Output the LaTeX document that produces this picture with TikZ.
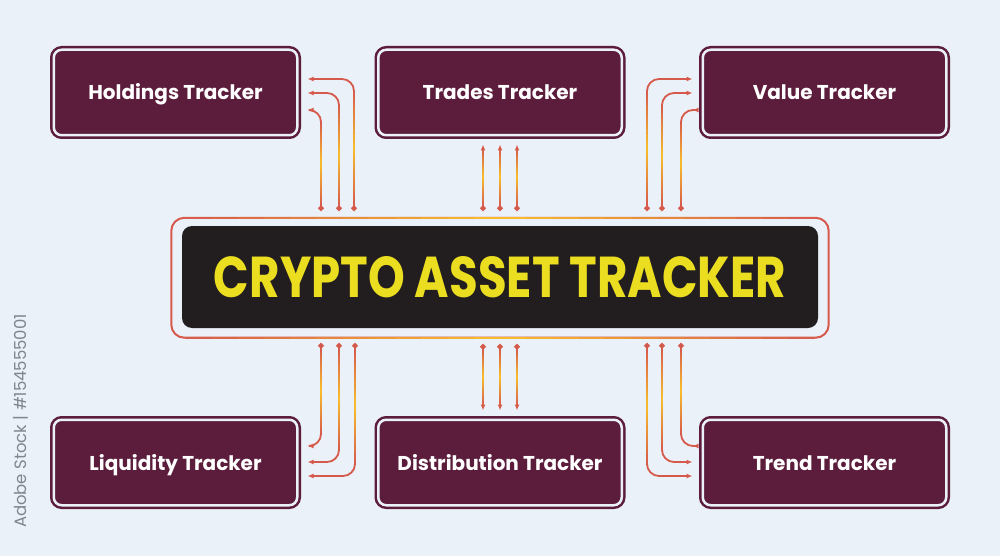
\documentclass[tikz,border=0pt]{standalone}
\usepackage{fontspec}
\usepackage{graphicx}
\setmainfont{Poppins}
\usetikzlibrary{arrows.meta,calc}
\definecolor{bg}{HTML}{EBF1F8}
\definecolor{boxmaroon}{HTML}{5C1D3C}
\definecolor{coreblack}{HTML}{221E1F}
\definecolor{ttl}{HTML}{EBDD1F}
\definecolor{lred}{HTML}{D65A4C}
\definecolor{lorange}{HTML}{F8C02A}
\definecolor{wm}{HTML}{80868F}
\tikzset{
  tbox/.style={rectangle, rounded corners=8, fill=boxmaroon, draw=boxmaroon, line width=2.5, double=bg, double distance=2.5,
    minimum width=243.5, minimum height=85.5, inner sep=0, text=white, text height=15, text depth=0,
    font=\bfseries\fontsize{20}{22}\selectfont},
  corebox/.style={rectangle, rounded corners=10, fill=coreblack, minimum width=636, minimum height=102, inner sep=0},
  coreframe/.style={draw=lred, line width=2, rounded corners=13},
  conn/.style={draw=lred, line width=1.8, rounded corners=12, {Circle[length=5.5, width=5.5]}-{Latex[length=6, width=5]}},
  glowseg/.style={line width=#1, line cap=butt},
}
% gradient overlay: red at both ends, yellow-orange in the middle
\newcommand\gradline[5]{%
  \foreach \k in {0,...,23}{%
    \pgfmathsetmacro\ta{\k/24}%
    \pgfmathsetmacro\tb{min(1,(\k+1.3)/24)}%
    \pgfmathtruncatemacro\p{100*(1-abs(2*(\k+0.5)/24-1))}%
    \draw[glowseg=#5, draw=lorange!\p!lred]
      ({(#1)+((#3)-(#1))*\ta},{(#2)+((#4)-(#2))*\ta}) -- ({(#1)+((#3)-(#1))*\tb},{(#2)+((#4)-(#2))*\tb});
  }}
\begin{document}
\begin{tikzpicture}[x=1pt, y=-1pt]
\fill[bg] (0,0) rectangle (1000,556);
\useasboundingbox (0,0) rectangle (1000,556);

% tracker boxes
\node[tbox] (hold)  at (175.5,92.5)  {Holdings Tracker};
\node[tbox] (trade) at (500,92.5)    {Trades Tracker};
\node[tbox] (value) at (824.5,92.5)  {Value Tracker};
\node[tbox] (liq)   at (175.5,462.5) {Liquidity Tracker};
\node[tbox] (dist)  at (500,462.5)   {Distribution Tracker};
\node[tbox] (trend) at (824.5,462.5) {Trend Tracker};

% central box
\node[corebox] (core) at (500,277) {\textcolor{ttl}{\resizebox{572pt}{41pt}{\bfseries CRYPTO ASSET TRACKER}}};
\draw[coreframe] ($(core.north west)+(-10.5,-8)$) rectangle ($(core.south east)+(10.5,9.5)$);
\gradline{185}{218}{815}{218}{2}
\gradline{185}{337.5}{815}{337.5}{2}

% connector start points
\foreach \i/\x in {1/321,2/339,3/354} {\coordinate (tl\i) at (\x,211);}
\foreach \i/\x in {1/647,2/662,3/681} {\coordinate (tr\i) at (\x,211);}
\foreach \i/\x in {1/483,2/500,3/517} {\coordinate (tm\i) at (\x,211);}
\foreach \i/\x in {1/321,2/339,3/355} {\coordinate (bl\i) at (\x,343);}
\foreach \i/\x in {1/647,2/662,3/681} {\coordinate (br\i) at (\x,343);}
\foreach \i/\x in {1/483,2/500,3/517} {\coordinate (bm\i) at (\x,344);}

% connectors: top
\foreach \i/\x/\dy in {1/321/17.5,2/339/0.5,3/354/-13.5}{
  \draw[conn] (tl\i) |- ($(hold.east)+(9,\dy)$);
  \gradline{\x}{206}{\x}{92.5+\dy+12}{1.8}}
\foreach \i/\x/\dy in {1/647/-13.5,2/662/0.5,3/681/17.5}{
  \draw[conn] (tr\i) |- ($(value.west)+(-9,\dy)$);
  \gradline{\x}{206}{\x}{92.5+\dy+12}{1.8}}
\foreach \i/\x in {1/483,2/500,3/517}{
  \draw[conn] (tm\i) -- ($(tm\i |- trade.south)+(0,8)$);
  \gradline{\x}{206}{\x}{149}{1.8}}
% connectors: bottom
\foreach \i/\x/\dy in {1/321/-16.5,2/339/-0.5,3/355/13.5}{
  \draw[conn] (bl\i) |- ($(liq.east)+(9,\dy)$);
  \gradline{\x}{348}{\x}{462.5+\dy-12}{1.8}}
\foreach \i/\x/\dy in {1/647/13.5,2/662/-0.5,3/681/-16.5}{
  \draw[conn] (br\i) |- ($(trend.west)+(-9,\dy)$);
  \gradline{\x}{348}{\x}{462.5+\dy-12}{1.8}}
\foreach \i/\x in {1/483,2/500,3/517}{
  \draw[conn] (bm\i) -- ($(bm\i |- dist.north)+(0,-8)$);
  \gradline{\x}{349}{\x}{406}{1.8}}

% side credit
\node[rotate=90, text=wm, font=\fontsize{16.5}{16.5}\selectfont] (credit) at (21,421) {Adobe Stock | \#154555001};
\end{tikzpicture}
\end{document}
